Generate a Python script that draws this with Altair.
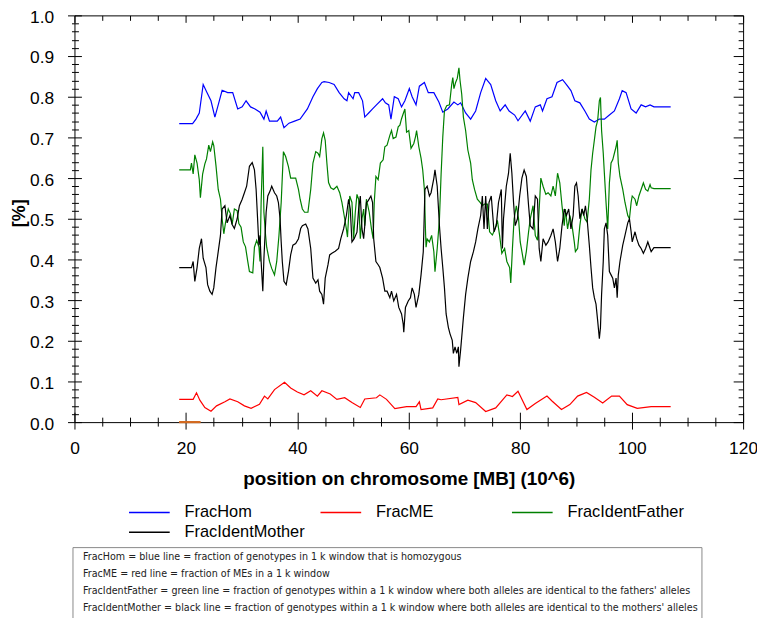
import altair as alt
import pandas as pd

# ---------------- data ----------------
series_names = ["FracHom", "FracME", "FracIdentFather", "FracIdentMother"]
series_colors = ["#0000ff", "#ff0000", "#008000", "#000000"]

hom_pos = [18.8, 21.2, 21.8, 22.4, 23.1, 23.8, 24.5, 25.2, 25.8, 26.5, 27.5, 28.4, 29.3, 30.1, 30.8,
           31.6, 32.4, 33.3, 34.0, 34.4, 35.0, 36.4, 37.0, 37.6, 38.5, 39.5, 40.5, 41.8, 42.8, 43.6,
           44.4, 44.8, 45.7, 46.6, 47.5, 48.4, 48.9, 49.2, 50.0, 50.3, 51.0, 51.7, 52.1, 52.8, 53.5,
           54.2, 55.3, 55.8, 56.4, 56.8, 57.4, 58.1, 58.7, 59.3, 60.1, 60.6, 61.3, 61.9, 62.8, 63.5,
           64.5, 65.4, 66.1, 67.0, 68.1, 68.8, 69.3, 70.2, 71.1, 72.0, 72.9, 73.8, 74.7, 75.6, 76.4,
           77.3, 78.0, 79.0, 79.6, 80.9, 81.8, 82.7, 83.6, 84.0, 84.8, 85.7, 86.6, 87.6, 88.3, 89.1,
           89.8, 90.7, 91.6, 92.4, 93.3, 94.2, 95.1, 96.0, 96.9, 97.8, 98.3, 99.0, 99.9, 100.8, 101.7,
           102.5, 103.3, 104.0, 107.0]
hom_val = [0.734, 0.734, 0.745, 0.76, 0.83, 0.81, 0.79, 0.75, 0.78, 0.816, 0.81, 0.81, 0.77, 0.775, 0.79,
           0.775, 0.77, 0.762, 0.745, 0.765, 0.74, 0.74, 0.75, 0.724, 0.735, 0.74, 0.745, 0.77, 0.80, 0.82,
           0.835, 0.837, 0.835, 0.83, 0.81, 0.795, 0.79, 0.81, 0.795, 0.81, 0.81, 0.79, 0.75, 0.76, 0.77,
           0.78, 0.795, 0.785, 0.78, 0.745, 0.80, 0.795, 0.775, 0.79, 0.82, 0.80, 0.78, 0.826, 0.835, 0.81,
           0.81, 0.787, 0.762, 0.77, 0.787, 0.78, 0.785, 0.76, 0.745, 0.765, 0.81, 0.845, 0.83, 0.79, 0.765,
           0.78, 0.765, 0.755, 0.741, 0.765, 0.74, 0.775, 0.78, 0.765, 0.795, 0.80, 0.835, 0.842, 0.83, 0.815,
           0.79, 0.785, 0.765, 0.745, 0.738, 0.745, 0.745, 0.755, 0.765, 0.795, 0.815, 0.81, 0.77, 0.76, 0.78,
           0.775, 0.78, 0.775, 0.775]

me_pos = [18.8, 21.3, 21.9, 22.5, 23.4, 24.5, 25.5, 27.0, 27.9, 29.3, 30.5, 31.7, 33.2, 34.1, 34.7,
          35.9, 37.7, 38.8, 40.0, 41.2, 42.4, 43.6, 44.4, 45.9, 47.1, 48.5, 49.8, 51.3, 52.1, 54.2,
          54.8, 56.0, 57.5, 59.6, 61.3, 61.9, 62.2, 64.3, 65.2, 65.8, 68.8, 69.0, 70.6, 72.0, 73.8,
          75.6, 77.6, 78.6, 79.6, 81.2, 82.7, 84.8, 85.7, 87.4, 88.9, 90.3, 91.9, 93.3, 94.8, 96.4,
          97.8, 99.2, 101.0, 103.5, 107.0]
me_val = [0.056, 0.056, 0.072, 0.054, 0.036, 0.027, 0.04, 0.05, 0.057, 0.05, 0.04, 0.034, 0.044, 0.064, 0.057,
          0.08, 0.098, 0.084, 0.074, 0.067, 0.077, 0.064, 0.077, 0.069, 0.056, 0.06, 0.048, 0.036, 0.057, 0.06,
          0.067, 0.056, 0.033, 0.038, 0.038, 0.05, 0.031, 0.035, 0.057, 0.055, 0.061, 0.043, 0.054, 0.048, 0.026,
          0.035, 0.067, 0.063, 0.076, 0.031, 0.046, 0.064, 0.052, 0.031, 0.043, 0.064, 0.073, 0.061, 0.047, 0.064,
          0.064, 0.043, 0.034, 0.038, 0.038]

father_pos = [18.8, 20.8, 21.0, 21.3, 21.6, 22.0, 22.4, 22.6, 23.0, 23.4, 23.7, 24.1, 24.4, 24.8, 25.0,
              25.4, 25.8, 26.2, 26.5, 26.8, 27.1, 27.6, 28.0, 28.3, 28.7, 29.2, 29.5, 29.9, 30.3, 30.7,
              31.1, 31.4, 32.0, 32.3, 32.7, 33.1, 33.3, 33.5, 33.8, 34.0, 34.3, 34.5, 35.0, 35.4, 35.9,
              36.3, 36.7, 37.1, 37.5, 37.9, 38.4, 38.8, 39.2, 39.7, 40.2, 40.5, 40.9, 41.3, 41.9, 42.4,
              42.8, 43.3, 43.7, 44.0, 44.4, 44.7, 45.0, 45.3, 45.6, 46.0, 46.5, 47.1, 47.6, 48.0, 48.4,
              48.8, 49.0, 49.4, 49.8, 50.1, 50.4, 50.7, 51.0, 51.3, 51.6, 51.9, 52.1, 52.4, 52.9, 53.3,
              53.6, 53.8, 54.1, 54.5, 54.9, 55.4, 55.7, 56.1, 56.6, 56.9, 57.2, 57.7, 58.1, 58.4, 58.7,
              59.0, 59.3, 59.6, 60.0, 60.4, 60.9, 61.2, 61.4, 61.8, 62.2, 62.5, 62.8, 63.0, 63.1, 63.3,
              63.7, 64.1, 64.5, 64.7, 65.1, 65.5, 65.8, 66.1, 66.4, 66.8, 67.3, 67.7, 67.9, 68.1, 68.4,
              68.7, 69.0, 69.2, 69.5, 69.8, 70.2, 70.6, 71.1, 71.4, 71.8, 72.3, 72.8, 73.2, 73.6, 74.1,
              74.5, 75.0, 75.4, 75.9, 76.3, 76.7, 77.2, 77.6, 78.1, 78.3, 78.6, 78.9, 79.3, 79.7, 80.0,
              80.4, 80.7, 81.1, 81.5, 81.8, 82.3, 82.7, 83.1, 83.4, 83.7, 84.1, 84.6, 85.0, 85.5, 85.9,
              86.3, 86.7, 87.1, 87.5, 87.9, 88.1, 88.5, 88.9, 89.3, 89.7, 89.9, 90.3, 90.7, 91.1, 91.6,
              92.0, 92.4, 92.7, 93.0, 93.3, 93.6, 93.9, 94.2, 94.4, 94.6, 94.9, 95.1, 95.4, 95.7, 96.0,
              96.3, 96.6, 96.9, 97.2, 97.4, 97.6, 97.9, 98.4, 98.8, 99.3, 99.6, 99.9, 100.1, 100.6, 100.9,
              101.3, 101.7, 102.1, 102.5, 102.9, 103.3, 103.5, 104.0, 107.0]
father_val = [0.62, 0.62, 0.637, 0.61, 0.657, 0.637, 0.596, 0.552, 0.61, 0.635, 0.647, 0.681, 0.665, 0.689, 0.68,
              0.63, 0.572, 0.548, 0.5, 0.463, 0.49, 0.524, 0.512, 0.486, 0.524, 0.52, 0.488, 0.479, 0.443, 0.431,
              0.395, 0.37, 0.367, 0.43, 0.447, 0.431, 0.395, 0.54, 0.677, 0.516, 0.459, 0.43, 0.395, 0.378, 0.362,
              0.395, 0.459, 0.54, 0.665, 0.653, 0.628, 0.6, 0.6, 0.6, 0.572, 0.548, 0.524, 0.516, 0.516, 0.572,
              0.637, 0.665, 0.661, 0.653, 0.697, 0.711, 0.693, 0.637, 0.589, 0.576, 0.572, 0.58, 0.564, 0.54, 0.508,
              0.475, 0.455, 0.556, 0.54, 0.451, 0.516, 0.56, 0.548, 0.451, 0.5, 0.524, 0.483, 0.548, 0.516, 0.475,
              0.451, 0.54, 0.604, 0.596, 0.637, 0.645, 0.677, 0.681, 0.705, 0.717, 0.697, 0.701, 0.726, 0.73, 0.746,
              0.758, 0.77, 0.713, 0.717, 0.673, 0.685, 0.701, 0.717, 0.677, 0.649, 0.62, 0.572, 0.47, 0.43, 0.45,
              0.443, 0.459, 0.419, 0.37, 0.427, 0.5, 0.61, 0.701, 0.766, 0.778, 0.78, 0.83, 0.847, 0.82, 0.835,
              0.845, 0.871, 0.84, 0.806, 0.75, 0.717, 0.669, 0.637, 0.596, 0.572, 0.548, 0.54, 0.532, 0.536, 0.536,
              0.468, 0.46, 0.472, 0.496, 0.459, 0.415, 0.427, 0.395, 0.38, 0.342, 0.427, 0.5, 0.532, 0.5, 0.443,
              0.411, 0.386, 0.42, 0.468, 0.5, 0.532, 0.459, 0.447, 0.524, 0.6, 0.58, 0.56, 0.564, 0.556, 0.58,
              0.556, 0.612, 0.588, 0.532, 0.483, 0.524, 0.475, 0.508, 0.483, 0.443, 0.419, 0.427, 0.483, 0.524, 0.5,
              0.492, 0.548, 0.62, 0.661, 0.693, 0.726, 0.742, 0.79, 0.798, 0.717, 0.661, 0.612, 0.54, 0.475, 0.588,
              0.637, 0.645, 0.661, 0.677, 0.693, 0.637, 0.604, 0.572, 0.54, 0.508, 0.5, 0.54, 0.556, 0.548, 0.532,
              0.556, 0.572, 0.588, 0.572, 0.568, 0.584, 0.576, 0.574, 0.574]

mother_pos = [18.8, 21.0, 21.3, 21.6, 22.0, 22.4, 22.8, 23.1, 23.6, 23.9, 24.3, 24.7, 25.0, 25.4, 25.8,
              26.2, 26.5, 27.0, 27.4, 27.9, 28.3, 28.7, 29.2, 29.6, 30.1, 30.5, 30.9, 31.4, 31.9, 32.3,
              32.6, 32.9, 33.1, 33.3, 33.5, 33.8, 34.0, 34.4, 34.7, 35.1, 35.4, 35.9, 36.3, 36.6, 36.9,
              37.1, 37.3, 37.6, 38.0, 38.4, 38.8, 39.2, 39.7, 40.2, 40.6, 40.9, 41.5, 41.9, 42.4, 42.8,
              43.3, 43.7, 44.0, 44.4, 44.7, 45.0, 45.5, 45.8, 46.2, 46.8, 47.4, 47.8, 48.3, 48.8, 49.2,
              49.5, 49.8, 50.2, 50.7, 51.0, 51.3, 51.6, 51.9, 52.1, 52.4, 52.7, 53.2, 53.5, 53.7, 54.1,
              54.5, 54.8, 55.3, 55.7, 56.1, 56.6, 56.9, 57.3, 57.8, 58.2, 58.7, 59.0, 59.1, 59.4, 59.9,
              60.3, 60.6, 61.0, 61.3, 61.8, 62.2, 62.6, 62.9, 63.3, 63.7, 64.0, 64.5, 64.7, 65.1, 65.3,
              65.5, 65.8, 66.1, 66.4, 66.7, 67.1, 67.4, 67.8, 68.0, 68.3, 68.6, 68.9, 69.0, 69.3, 69.5,
              69.8, 70.2, 70.6, 71.1, 71.6, 72.0, 72.4, 72.9, 73.2, 73.5, 73.8, 74.1, 74.4, 74.8, 75.3,
              75.7, 76.1, 76.6, 76.8, 77.0, 77.5, 77.9, 78.2, 78.5, 78.8, 79.1, 79.5, 79.9, 80.3, 80.7,
              81.1, 81.5, 81.8, 82.3, 82.7, 83.1, 83.4, 83.7, 84.1, 84.6, 85.0, 85.5, 85.9, 86.3, 86.7,
              87.1, 87.5, 87.9, 88.3, 88.7, 89.1, 89.5, 89.8, 90.1, 90.4, 90.7, 91.1, 91.4, 91.7, 92.0,
              92.4, 92.7, 93.0, 93.3, 93.6, 93.9, 94.2, 94.4, 94.6, 94.9, 95.1, 95.4, 95.7, 96.0, 96.3,
              96.6, 96.9, 97.2, 97.4, 97.6, 97.9, 98.4, 98.8, 99.3, 99.6, 99.9, 100.1, 100.6, 100.9, 101.3,
              101.7, 102.1, 102.5, 102.9, 103.3, 103.5, 104.0, 107.0]
mother_val = [0.38, 0.38, 0.395, 0.346, 0.38, 0.427, 0.451, 0.403, 0.38, 0.338, 0.322, 0.314, 0.33, 0.38, 0.419,
              0.459, 0.524, 0.532, 0.49, 0.508, 0.486, 0.476, 0.5, 0.532, 0.548, 0.564, 0.58, 0.629, 0.638, 0.62,
              0.572, 0.49, 0.435, 0.459, 0.395, 0.322, 0.403, 0.516, 0.556, 0.568, 0.58, 0.564, 0.556, 0.54, 0.5,
              0.443, 0.395, 0.346, 0.338, 0.37, 0.411, 0.435, 0.439, 0.451, 0.476, 0.483, 0.487, 0.475, 0.427, 0.354,
              0.342, 0.35, 0.322, 0.314, 0.29, 0.354, 0.387, 0.411, 0.415, 0.42, 0.427, 0.451, 0.475, 0.508, 0.548,
              0.524, 0.443, 0.451, 0.467, 0.524, 0.556, 0.475, 0.451, 0.483, 0.54, 0.544, 0.556, 0.54, 0.451, 0.395,
              0.387, 0.38, 0.354, 0.322, 0.322, 0.306, 0.322, 0.298, 0.314, 0.282, 0.266, 0.241, 0.221, 0.282, 0.298,
              0.306, 0.33, 0.314, 0.282, 0.314, 0.362, 0.419, 0.572, 0.58, 0.556, 0.564, 0.6, 0.62, 0.58, 0.532,
              0.483, 0.427, 0.38, 0.33, 0.266, 0.233, 0.217, 0.201, 0.169, 0.185, 0.169, 0.185, 0.136, 0.177, 0.209,
              0.257, 0.314, 0.354, 0.395, 0.419, 0.443, 0.475, 0.508, 0.556, 0.475, 0.556, 0.475, 0.54, 0.556, 0.468,
              0.483, 0.54, 0.572, 0.427, 0.5, 0.58, 0.612, 0.661, 0.612, 0.54, 0.483, 0.5, 0.556, 0.6, 0.62,
              0.604, 0.532, 0.483, 0.475, 0.556, 0.548, 0.427, 0.395, 0.451, 0.435, 0.443, 0.459, 0.475, 0.443, 0.395,
              0.427, 0.483, 0.524, 0.508, 0.524, 0.475, 0.508, 0.58, 0.588, 0.556, 0.5, 0.524, 0.508, 0.532, 0.5,
              0.435, 0.38, 0.33, 0.306, 0.29, 0.249, 0.205, 0.233, 0.314, 0.395, 0.475, 0.49, 0.459, 0.37, 0.362,
              0.354, 0.33, 0.354, 0.306, 0.362, 0.395, 0.435, 0.459, 0.49, 0.5, 0.468, 0.443, 0.468, 0.451, 0.435,
              0.427, 0.415, 0.427, 0.443, 0.427, 0.419, 0.429, 0.429]

# short orange segment lying on the zero line at the start of the data
zero_pos = [18.8, 22.6]
zero_val = [0.0, 0.0]

desc_lines = [
    "FracHom = blue line = fraction of genotypes in 1 k window that is homozygous",
    "FracME = red line = fraction of MEs in a 1 k window",
    "FracIdentFather = green line = fraction of genotypes within a 1 k window where both alleles are identical to the fathers' alleles",
    "FracIdentMother = black line = fraction of genotypes within a 1 k window where both alleles are identical to the mothers' alleles",
]

x_ticks = list(range(0, 121, 5))
y_ticks = [round(i * 0.02, 2) for i in range(51)]

# ---------------- tables ----------------
def frame(name, pos, val):
    return pd.DataFrame({"pos": pos, "value": val, "series": name})

df_lines = pd.concat([
    frame("FracHom", hom_pos, hom_val),
    frame("FracME", me_pos, me_val),
    frame("FracIdentFather", father_pos, father_val),
    frame("FracIdentMother", mother_pos, mother_val),
], ignore_index=True)
df_zero = pd.DataFrame({"pos": zero_pos, "value": zero_val})
df_desc = pd.DataFrame({"desc": desc_lines})

FONT = "Liberation Sans, Arial, sans-serif"
NARROW = "Liberation Sans Narrow, Arial Narrow, DejaVu Sans Condensed, sans-serif"

xscale = alt.Scale(domain=[0, 120], nice=False, zero=False)
yscale = alt.Scale(domain=[0, 1], nice=False, zero=False)

X_MAJOR = "datum.value % 20 === 0"
Y_MAJOR = "abs(datum.value * 10 - round(datum.value * 10)) < 0.001"

color_legend = alt.Legend(
    orient="none", legendX=54, legendY=492.5, title=None, direction="horizontal",
    columns=3, gridAlign="all",
    columnPadding=14, rowPadding=3, clipHeight=17, padding=0,
    symbolType="stroke", symbolSize=1681, symbolStrokeWidth=1.5,
    labelFont=FONT, labelFontSize=16.5, labelColor="#000000", labelOffset=14, labelLimit=300,
)

# main axes (outer ticks + labels)
x_main = alt.Axis(
    orient="bottom", values=x_ticks, grid=False, domain=False,
    labelExpr=f"{X_MAJOR} ? datum.label : ''", labelFlush=False, labelOverlap=False,
    labelFont=FONT, labelFontSize=17.5, labelColor="#000000", labelPadding=11,
    tickSize={"condition": {"test": X_MAJOR, "value": 7}, "value": 4}, tickColor="#000000",
    title="position on chromosome [MB] (10^6)", titleFont=FONT, titleFontSize=19,
    titleFontWeight="bold", titleColor="#000000", titleX=337, titleY=57,
    titleAlign="center", titleBaseline="middle",
)
y_main = alt.Axis(
    orient="left", values=y_ticks, grid=False, domain=False,
    labelExpr=f"{Y_MAJOR} ? format(datum.value, '.1f') : ''", labelFlush=False, labelOverlap=False,
    labelFont=FONT, labelFontSize=17.5, labelColor="#000000", labelPadding=14, labelOffset=2,
    tickSize={"condition": {"test": Y_MAJOR, "value": 7}, "value": 3}, tickColor="#000000",
    title="[%]", titleFont=FONT, titleFontSize=18, titleFontWeight="bold", titleColor="#000000",
    titleX=-55, titleY=199, titleAngle=270, titleAlign="center", titleBaseline="middle",
)
# inner part of the crossing ticks on bottom / left
x_inner = alt.Axis(
    orient="bottom", values=x_ticks, grid=False, domain=False, labels=False, title=None,
    tickSize={"condition": {"test": X_MAJOR, "value": -10}, "value": -5}, tickColor="#000000",
)
y_inner = alt.Axis(
    orient="left", values=y_ticks, grid=False, domain=False, labels=False, title=None,
    tickSize={"condition": {"test": Y_MAJOR, "value": -7}, "value": -4}, tickColor="#000000",
)
# inward ticks on top / right
x_top = alt.Axis(
    orient="top", values=x_ticks, grid=False, domain=False, labels=False, title=None,
    tickSize={"condition": {"test": X_MAJOR, "value": -7}, "value": -5}, tickColor="#000000",
)
y_right = alt.Axis(
    orient="right", values=y_ticks, grid=False, domain=False, labels=False, title=None,
    tickSize={"condition": {"test": Y_MAJOR, "value": -10}, "value": -5}, tickColor="#000000",
)

layer_lines = alt.Chart(df_lines).mark_line(strokeWidth=1.2).encode(
    x=alt.X("pos:Q", scale=xscale, axis=x_main),
    y=alt.Y("value:Q", scale=yscale, axis=y_main),
    color=alt.Color("series:N", scale=alt.Scale(domain=series_names, range=series_colors),
                    sort=series_names, legend=color_legend),
)
layer_zero_in = alt.Chart(df_zero).mark_line(strokeWidth=2, color="#d2691e").encode(
    x=alt.X("pos:Q", scale=xscale, axis=x_inner),
    y=alt.Y("value:Q", scale=yscale, axis=y_inner),
)
layer_zero_out = alt.Chart(df_zero).mark_line(strokeWidth=2, color="#d2691e").encode(
    x=alt.X("pos:Q", scale=xscale, axis=x_top),
    y=alt.Y("value:Q", scale=yscale, axis=y_right),
)
desc_legend = alt.Legend(
    orient="none", legendX=-2, legendY=536, title=None, direction="vertical",
    labelFont=NARROW, labelFontSize=10.7, labelColor="#222222", labelLimit=900,
    labelOffset={"expr": "-4"},
    symbolOpacity=0, symbolSize=0, symbolStrokeWidth=0, clipHeight=12.5, rowPadding=4,
    padding=4, strokeColor="#888888", fillColor="#ffffff",
)
layer_desc = alt.Chart(df_desc).mark_point(opacity=0).encode(
    shape=alt.Shape("desc:N", scale=alt.Scale(domain=desc_lines), legend=desc_legend),
)

chart = (
    alt.layer(layer_lines, layer_zero_in, layer_zero_out, layer_desc)
    .resolve_axis(x="independent", y="independent")
    .properties(
        width=674, height=410,
        padding={"left": 67, "top": 5, "right": 14, "bottom": 195},
        autosize=alt.AutoSizeParams(type="none"),
        background="#ffffff",
    )
    .configure_view(stroke="#000000", strokeWidth=1)
)

chart.save("out.html", embed_options={"renderer": "svg", "actions": False})
